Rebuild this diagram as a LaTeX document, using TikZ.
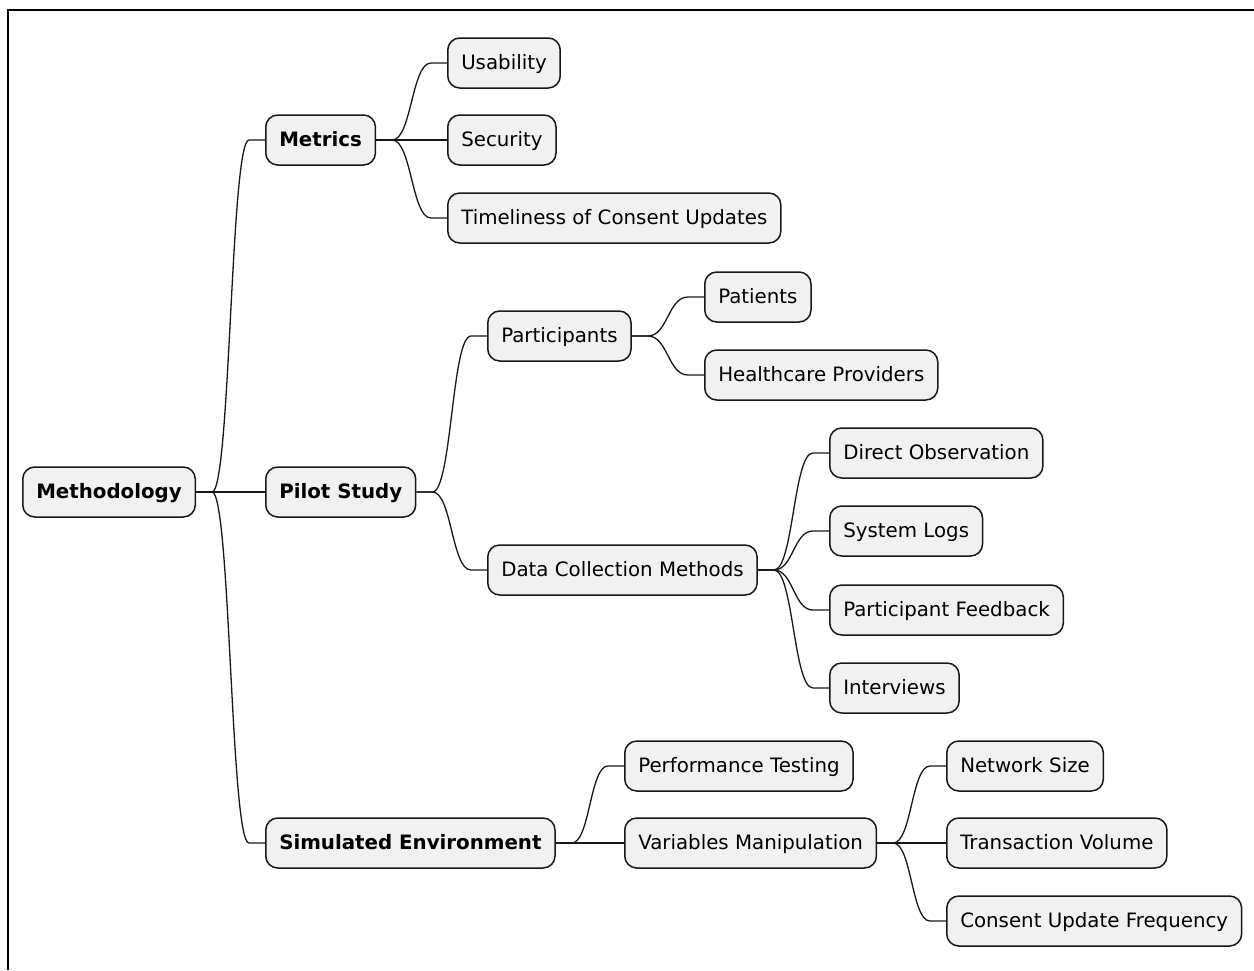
\documentclass[tikz,border=0pt]{standalone}
\usepackage{fontspec}
\setmainfont{DejaVu Sans}
\usetikzlibrary{calc}
\definecolor{boxfill}{HTML}{F1F1F1}
\definecolor{boxline}{HTML}{181818}
\tikzset{
  mm/.style={draw=boxline, fill=boxfill, line width=1.5pt, rounded corners=12pt,
    anchor=west, minimum height=50pt, inner xsep=13.5pt, inner ysep=0pt,
    text height=15.5pt, text depth=2.5pt,
    font=\fontsize{19.8}{23}\selectfont},
  mmb/.style={mm, font=\fontsize{19.8}{23}\selectfont\bfseries},
  conn/.style={draw=boxline, line width=1.3pt}
}
\newcommand\mmedge[2]{%
  \draw[conn] let \p1=(#1.east), \p2=(#2.west), \p3=($(#1.east)!0.5!(#2.west)$) in
    (\p1) -- (\x1+16pt,\y1) .. controls (\x3,\y1) and (\x3,\y2) .. (\x2-16pt,\y2) -- (\p2);}
\begin{document}
\begin{tikzpicture}[x=1pt,y=-1pt]
\useasboundingbox (0,0) rectangle (1254,970);
\draw[line width=2pt, black] (7.5,970) -- (7.5,9.5) -- (1254,9.5);
% nodes
\node[mmb] (root) at (22,492) {Methodology};
\node[mmb] (met) at (265,140) {Metrics};
\node[mmb] (pil) at (265,492) {Pilot Study};
\node[mmb] (sim) at (265,843) {Simulated Environment};
\node[mm] (usa) at (447,63) {Usability};
\node[mm] (sec) at (447,140) {Security};
\node[mm] (tim) at (447,218) {Timeliness of Consent Updates};
\node[mm] (par) at (487,336) {Participants};
\node[mm] (pat) at (704,297) {Patients};
\node[mm] (hcp) at (704,375) {Healthcare Providers};
\node[mm] (dcm) at (487,570) {Data Collection Methods};
\node[mm] (dob) at (829,453) {Direct Observation};
\node[mm] (slg) at (829,531) {System Logs};
\node[mm] (pfb) at (829,610) {Participant Feedback};
\node[mm] (int) at (829,688) {Interviews};
\node[mm] (pt) at (624,766) {Performance Testing};
\node[mm] (vm) at (624,843) {Variables Manipulation};
\node[mm] (ns) at (946,766) {Network Size};
\node[mm] (tv) at (946,843) {Transaction Volume};
\node[mm] (cuf) at (946,921) {Consent Update Frequency};
% edges
\mmedge{root}{met}
\mmedge{root}{pil}
\mmedge{root}{sim}
\mmedge{met}{usa}
\mmedge{met}{sec}
\mmedge{met}{tim}
\mmedge{pil}{par}
\mmedge{pil}{dcm}
\mmedge{par}{pat}
\mmedge{par}{hcp}
\mmedge{dcm}{dob}
\mmedge{dcm}{slg}
\mmedge{dcm}{pfb}
\mmedge{dcm}{int}
\mmedge{sim}{pt}
\mmedge{sim}{vm}
\mmedge{vm}{ns}
\mmedge{vm}{tv}
\mmedge{vm}{cuf}
\end{tikzpicture}
\end{document}
